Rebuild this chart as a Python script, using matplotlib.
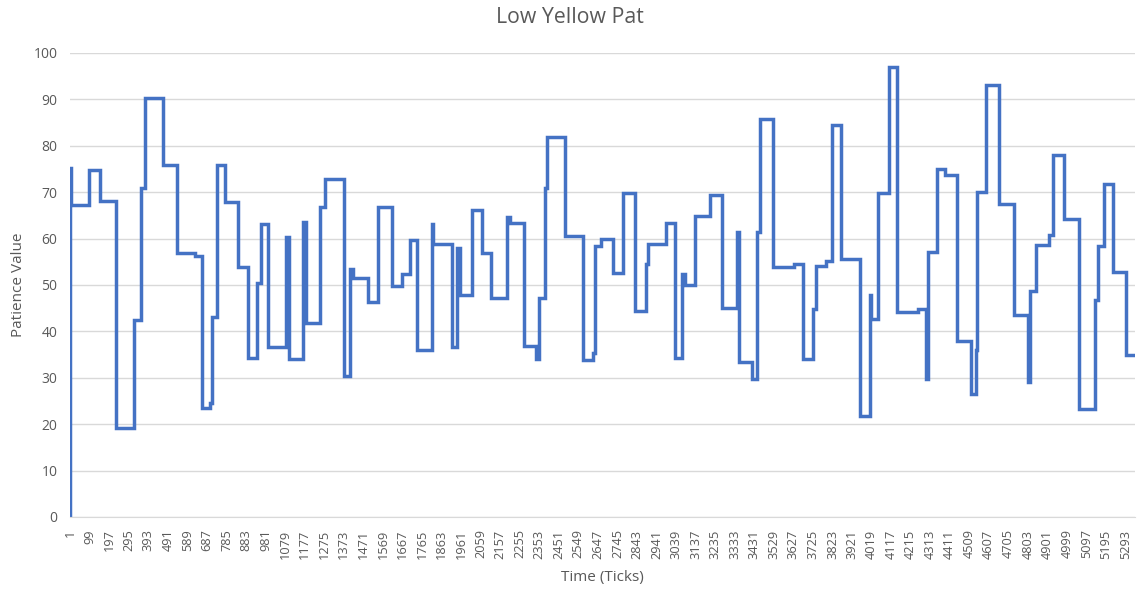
import matplotlib
matplotlib.use("Agg")
import matplotlib.pyplot as plt

plt.rcParams['font.family'] = ['Open Sans', 'DejaVu Sans']

# tick at which each level starts, and the level held from there
change_ticks = [1, 2, 4, 95, 150, 229, 321, 355, 374, 468, 535, 626, 664, 703, 710,
                735, 777, 845, 894, 937, 957, 991, 1083, 1097, 1167, 1183, 1256, 1279,
                1373, 1402, 1418, 1494, 1544, 1616, 1666, 1703, 1741, 1815, 1822, 1916,
                1941, 1954, 2018, 2066, 2110, 2193, 2205, 2277, 2339, 2351, 2381, 2394,
                2481, 2573, 2624, 2631, 2663, 2725, 2775, 2834, 2889, 2901, 2988, 3035,
                3068, 3082, 3135, 3211, 3269, 3345, 3355, 3420, 3445, 3462, 3524, 3629,
                3676, 3724, 3742, 3793, 3823, 3865, 3960, 4010, 4018, 4053, 4107, 4149,
                4254, 4291, 4300, 4349, 4388, 4450, 4517, 4542, 4550, 4592, 4660, 4735,
                4805, 4815, 4844, 4908, 4928, 4986, 5061, 5140, 5153, 5187, 5228, 5295,
                5340]
patience = [0, 75.2, 67.2, 74.7, 68.2, 19.2, 42.5, 70.8, 90.2, 75.8, 56.9, 56.3, 23.5, 24.6,
            43.2, 75.8, 67.9, 53.8, 34.3, 50.4, 63.1, 36.6, 60.3, 34.1, 63.5, 41.8, 66.7,
            72.9, 30.3, 53.4, 51.4, 46.3, 66.8, 49.7, 52.4, 59.8, 35.9, 63.1, 58.9, 36.6,
            58.0, 47.9, 66.2, 56.9, 47.1, 64.6, 63.4, 36.9, 34.1, 47.3, 71.0, 81.9, 60.6,
            33.8, 35.3, 58.5, 59.9, 52.6, 69.8, 44.3, 54.5, 58.9, 63.4, 34.3, 52.4, 49.9,
            64.8, 69.3, 45.0, 61.4, 33.4, 29.7, 61.4, 85.8, 53.8, 54.6, 34.1, 44.8, 54.0,
            55.2, 84.4, 55.5, 21.8, 47.9, 42.7, 69.8, 96.9, 44.1, 44.8, 29.7, 57.1, 74.9,
            73.6, 38.0, 26.4, 35.9, 70.0, 93.0, 67.5, 43.5, 29.0, 48.6, 58.7, 60.8, 78.1,
            64.2, 23.3, 46.7, 58.3, 71.8, 52.9, 35.0, 35.0]

x_tick_labels = list(range(1, 5294, 98))
y_ticks = list(range(0, 101, 10))

text_col = "#595959"
grid_col = "#D9D9D9"

fig = plt.figure(figsize=(11.39, 5.92), dpi=100)
ax = fig.add_axes([0.0615, 0.1267, 0.935, 0.7838])

ax.step(change_ticks, patience, where="post", color="#4472C4", lw=2.5,
        solid_joinstyle="miter")

ax.set_xlim(0.5, 5340.5)
ax.set_ylim(0, 100)
ax.set_yticks(y_ticks)
ax.set_xticks(x_tick_labels)
ax.set_xticklabels([str(v) for v in x_tick_labels], rotation=90)
ax.grid(axis="y", color=grid_col, lw=1)
ax.set_axisbelow(True)
ax.tick_params(axis="both", length=0, colors=text_col)
ax.tick_params(axis="x", pad=9, labelsize=9.2)
ax.tick_params(axis="y", pad=9, labelsize=10)
for s in ["top", "right", "left"]:
    ax.spines[s].set_visible(False)
ax.spines["bottom"].set_color(grid_col)

ax.set_xlabel("Time (Ticks)", color=text_col, fontsize=11, va="center")
ax.xaxis.set_label_coords(0.5, -0.131)
ax.set_ylabel("Patience Value", color=text_col, fontsize=11, va="center")
ax.yaxis.set_label_coords(-0.0488, 0.5)
fig.text(0.5, 0.9696, "Low Yellow Pat", ha="center", va="center",
         color=text_col, fontsize=15.3)

fig.savefig("out.png", dpi=100)
